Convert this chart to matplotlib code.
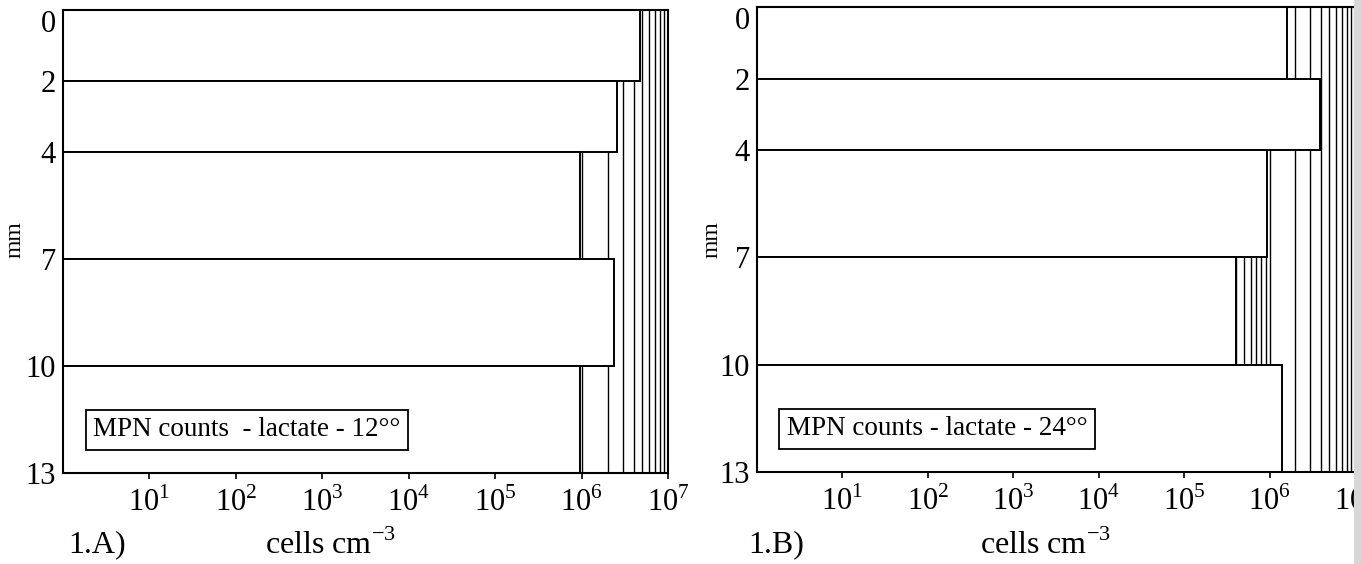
import matplotlib
matplotlib.use("Agg")
import matplotlib.pyplot as plt
from matplotlib.ticker import FixedLocator, LogLocator, NullFormatter
from matplotlib.patches import Rectangle

# depth layers (mm)
depth_top = [0, 2, 4, 7, 10]
depth_bottom = [2, 4, 7, 10, 13]
depth_ticks = [0, 2, 4, 7, 10, 13]

# MPN counts, cells cm-3
counts_12 = [4.8e6, 2.6e6, 9.6e5, 2.4e6, 9.6e5]
counts_24 = [1.6e6, 3.9e6, 9.3e5, 4.0e5, 1.4e6]

decade_ticks = [1e1, 1e2, 1e3, 1e4, 1e5, 1e6, 1e7]
decade_labels = ["$10^{%d}$" % i for i in range(1, 8)]

plt.rcParams['font.family'] = ['Liberation Serif', 'DejaVu Serif']
plt.rcParams['mathtext.fontset'] = 'custom'
plt.rcParams['mathtext.rm'] = 'Liberation Serif'


def draw_panel(ax, counts, legend_text):
    ax.set_xscale("log")
    ax.set_xlim(1, 1e7)
    ax.set_ylim(13, 0)

    heights = [b - t for t, b in zip(depth_top, depth_bottom)]
    widths = [c - 1 for c in counts]
    ax.barh(depth_top, widths, left=1, height=heights, align="edge",
            facecolor="white", edgecolor="black", linewidth=1.4, zorder=2)

    ax.xaxis.set_major_locator(FixedLocator(decade_ticks))
    ax.set_xticklabels(decade_labels)
    ax.xaxis.set_minor_locator(LogLocator(base=10, subs=range(2, 10), numticks=20))
    ax.xaxis.set_minor_formatter(NullFormatter())
    ax.grid(which="both", axis="x", color="black", linewidth=1.0, zorder=0)
    ax.set_axisbelow(True)

    ax.set_yticks(depth_ticks)
    ax.set_yticklabels([str(d) for d in depth_ticks])
    ax.get_yticklabels()[0].set_verticalalignment("top")
    ax.tick_params(axis="y", length=0, pad=5, labelsize=22)
    ax.tick_params(axis="x", which="major", length=4, width=1.2, pad=6, labelsize=22)
    ax.tick_params(axis="x", which="minor", length=0)
    for s in ax.spines.values():
        s.set_linewidth(1.5)
        s.set_zorder(3)

    ax.text(0.05, 0.093, legend_text, transform=ax.transAxes, fontsize=19.5,
            va="center", ha="left", zorder=4,
            bbox=dict(boxstyle="square,pad=0.28", facecolor="white",
                      edgecolor="black", linewidth=1.3))


fig = plt.figure(figsize=(13.61, 5.64), dpi=100)
ax_a = fig.add_axes([0.0463, 0.1613, 0.4445, 0.8210])
ax_b = fig.add_axes([0.5562, 0.1631, 0.4394, 0.8245])

draw_panel(ax_a, counts_12, "MPN counts  - lactate - 12°°")
draw_panel(ax_b, counts_24, "MPN counts - lactate - 24°°")

# axis titles and panel labels
fig.text(15 / 1361, 1 - 240 / 564, "mm", rotation=90, fontsize=17, ha="center", va="center")
fig.text(712 / 1361, 1 - 240 / 564, "mm", rotation=90, fontsize=17, ha="center", va="center")
fig.text(97 / 1361, 1 - 545 / 564, "1.A)", fontsize=23, ha="center", va="center")
fig.text(776 / 1361, 1 - 545 / 564, "1.B)", fontsize=23, ha="center", va="center")
fig.text(330 / 1361, 1 - 545 / 564, "cells cm$^{-3}$", fontsize=23, ha="center", va="center")
fig.text(1045 / 1361, 1 - 545 / 564, "cells cm$^{-3}$", fontsize=23, ha="center", va="center")

# scan shadow along the right edge
fig.patches.append(Rectangle((1354 / 1361, 0), 7 / 1361, 1, transform=fig.transFigure,
                             facecolor="#d8d8d8", edgecolor="none", zorder=5))

fig.savefig("out.png", dpi=100)
